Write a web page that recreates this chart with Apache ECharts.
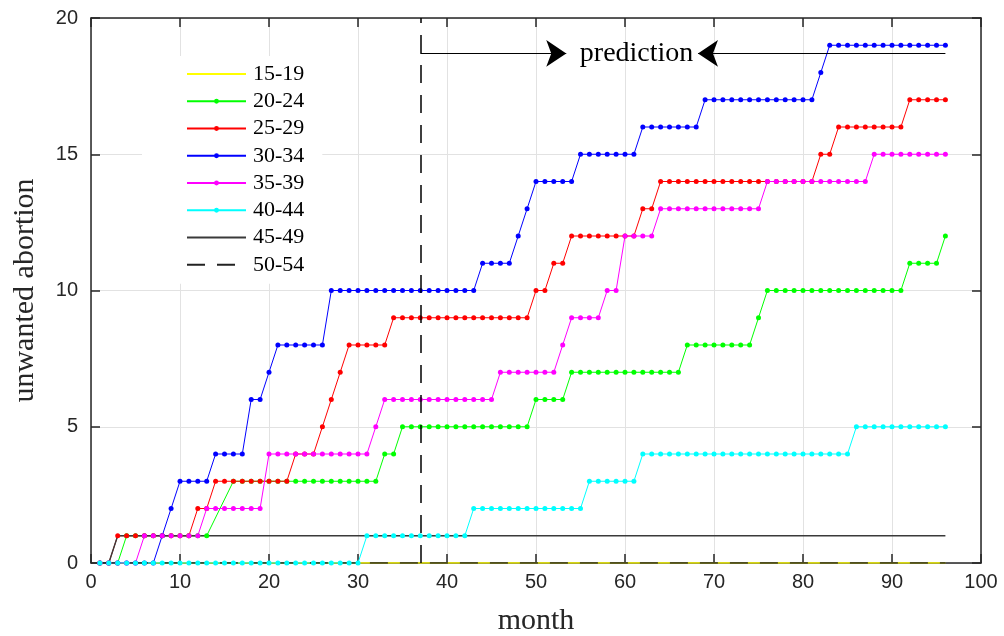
<!DOCTYPE html>
<html>
<head>
<meta charset="utf-8">
<script src="https://cdn.jsdelivr.net/npm/echarts/dist/echarts.min.js"></script>
<style>
  html, body { margin: 0; padding: 0; background: #fff; }
  #container { width: 1004px; height: 636px; }
</style>
</head>
<body>
<div id="container"></div>
<script>
// months 1..96
var months = [
  1, 2, 3, 4, 5, 6, 7, 8, 9, 10, 11, 12,
  13, 14, 15, 16, 17, 18, 19, 20, 21, 22, 23, 24,
  25, 26, 27, 28, 29, 30, 31, 32, 33, 34, 35, 36,
  37, 38, 39, 40, 41, 42, 43, 44, 45, 46, 47, 48,
  49, 50, 51, 52, 53, 54, 55, 56, 57, 58, 59, 60,
  61, 62, 63, 64, 65, 66, 67, 68, 69, 70, 71, 72,
  73, 74, 75, 76, 77, 78, 79, 80, 81, 82, 83, 84,
  85, 86, 87, 88, 89, 90, 91, 92, 93, 94, 95, 96
];

var age15_19 = [
  0,0,0,0,0,0,0,0,0,0,0,0, 0,0,0,0,0,0,0,0,0,0,0,0,
  0,0,0,0,0,0,0,0,0,0,0,0, 0,0,0,0,0,0,0,0,0,0,0,0,
  0,0,0,0,0,0,0,0,0,0,0,0, 0,0,0,0,0,0,0,0,0,0,0,0,
  0,0,0,0,0,0,0,0,0,0,0,0, 0,0,0,0,0,0,0,0,0,0,0,0
];
// two months have no marker in the picture (line goes straight 13 -> 16)
var age20_24 = [
  0,0,0,1,1,1,1,1,1,1,1,1,
  1,null,null,3,3,3,3,3,3,3,3,3,
  3,3,3,3,3,3,3,3,4,4,5,5,
  5,5,5,5,5,5,5,5,5,5,5,5,
  5,6,6,6,6,7,7,7,7,7,7,7,
  7,7,7,7,7,7,8,8,8,8,8,8,
  8,8,9,10,10,10,10,10,10,10,10,10,
  10,10,10,10,10,10,10,11,11,11,11,12
];
var age25_29 = [
  0,0,1,1,1,1,1,1,1,1,1,2,
  2,3,3,3,3,3,3,3,3,3,4,4,
  4,5,6,7,8,8,8,8,8,9,9,9,
  9,9,9,9,9,9,9,9,9,9,9,9,
  9,10,10,11,11,12,12,12,12,12,12,12,
  12,13,13,14,14,14,14,14,14,14,14,14,
  14,14,14,14,14,14,14,14,14,15,15,16,
  16,16,16,16,16,16,16,17,17,17,17,17
];
var age30_34 = [
  0,0,0,0,0,0,0,1,2,3,3,3,
  3,4,4,4,4,6,6,7,8,8,8,8,
  8,8,10,10,10,10,10,10,10,10,10,10,
  10,10,10,10,10,10,10,11,11,11,11,12,
  13,14,14,14,14,14,15,15,15,15,15,15,
  15,16,16,16,16,16,16,16,17,17,17,17,
  17,17,17,17,17,17,17,17,17,18,19,19,
  19,19,19,19,19,19,19,19,19,19,19,19
];
var age35_39 = [
  0,0,0,0,0,1,1,1,1,1,1,1,
  2,2,2,2,2,2,2,4,4,4,4,4,
  4,4,4,4,4,4,4,5,6,6,6,6,
  6,6,6,6,6,6,6,6,6,7,7,7,
  7,7,7,7,8,9,9,9,9,10,10,12,
  12,12,12,13,13,13,13,13,13,13,13,13,
  13,13,13,14,14,14,14,14,14,14,14,14,
  14,14,14,15,15,15,15,15,15,15,15,15
];
var age40_44 = [
  0,0,0,0,0,0,0,0,0,0,0,0,
  0,0,0,0,0,0,0,0,0,0,0,0,
  0,0,0,0,0,0,1,1,1,1,1,1,
  1,1,1,1,1,1,2,2,2,2,2,2,
  2,2,2,2,2,2,2,3,3,3,3,3,
  3,4,4,4,4,4,4,4,4,4,4,4,
  4,4,4,4,4,4,4,4,4,4,4,4,
  4,5,5,5,5,5,5,5,5,5,5,5
];
var age45_49 = [
  0,0,1,1,1,1,1,1,1,1,1,1, 1,1,1,1,1,1,1,1,1,1,1,1,
  1,1,1,1,1,1,1,1,1,1,1,1, 1,1,1,1,1,1,1,1,1,1,1,1,
  1,1,1,1,1,1,1,1,1,1,1,1, 1,1,1,1,1,1,1,1,1,1,1,1,
  1,1,1,1,1,1,1,1,1,1,1,1, 1,1,1,1,1,1,1,1,1,1,1,1
];
var age50_54 = [
  0,0,0,0,0,0,0,0,0,0,0,0, 0,0,0,0,0,0,0,0,0,0,0,0,
  0,0,0,0,0,0,0,0,0,0,0,0, 0,0,0,0,0,0,0,0,0,0,0,0,
  0,0,0,0,0,0,0,0,0,0,0,0, 0,0,0,0,0,0,0,0,0,0,0,0,
  0,0,0,0,0,0,0,0,0,0,0,0, 0,0,0,0,0,0,0,0,0,0,0,0
];

var groupNames = ['15-19', '20-24', '25-29', '30-34', '35-39', '40-44', '45-49', '50-54'];
var xTicks = [0, 10, 20, 30, 40, 50, 60, 70, 80, 90, 100];
var yTicks = [0, 5, 10, 15, 20];

// prediction marks
var predictStart = 37;
var arrowY = 18.7;
var arrowRightTip = 53.4;
var arrowLeftTip = 68.2;
var arrowLeftTail = 96;
var predictLabelX = 61.3;

var dom = document.getElementById("container");
var myChart = echarts.init(dom, null, { renderer: 'canvas' });

function pairs(vals) {
  var out = [];
  for (var i = 0; i < months.length; i++) {
    out.push([months[i], vals[i]]);
  }
  return out;
}

var axisColor = '#262626';
var serif = 'Liberation Serif';
var sans = 'Liberation Sans';

function dotSeries(name, vals, color) {
  return {
    name: name,
    type: 'line',
    data: pairs(vals),
    connectNulls: true,
    symbol: 'circle',
    symbolSize: 5,
    showSymbol: true,
    lineStyle: { color: color, width: 1 },
    itemStyle: { color: color, borderWidth: 0 },
    emphasis: { disabled: true },
    animation: false
  };
}

function plainSeries(name, vals, color, dash) {
  return {
    name: name,
    type: 'line',
    data: pairs(vals),
    symbol: 'none',
    lineStyle: { color: color, width: 1.4, type: dash || 'solid' },
    itemStyle: { color: 'rgba(0,0,0,0)' },
    emphasis: { disabled: true },
    animation: false
  };
}

var baseX = {
  type: 'value',
  min: xTicks[0],
  max: xTicks[xTicks.length - 1],
  interval: 10,
  axisLine: { show: true, onZero: false, lineStyle: { color: axisColor, width: 1.5 } },
  axisTick: { show: true, inside: true, length: 9, lineStyle: { color: axisColor, width: 1.5 } }
};
var baseY = {
  type: 'value',
  min: yTicks[0],
  max: yTicks[yTicks.length - 1],
  interval: 5,
  axisLine: { show: true, onZero: false, lineStyle: { color: axisColor, width: 1.5 } },
  axisTick: { show: true, inside: true, length: 9, lineStyle: { color: axisColor, width: 1.5 } }
};

var option = {
  backgroundColor: '#fff',
  animation: false,
  grid: { left: 91, right: 23, top: 18, bottom: 73, containLabel: false, outerBoundsMode: 'none' },
  legend: {
    data: groupNames,
    orient: 'vertical',
    left: 142,
    top: 56,
    padding: [7, 18, 8, 44],
    backgroundColor: '#fff',
    itemWidth: 59,
    itemHeight: 6,
    itemGap: 5.25,
    selectedMode: false,
    textStyle: { fontFamily: serif, fontSize: 22, color: '#000', lineHeight: 20, padding: [0, 0, 0, 2] }
  },
  xAxis: [
    Object.assign({}, baseX, {
      position: 'bottom',
      name: 'month',
      nameLocation: 'middle',
      nameGap: 43,
      nameTextStyle: { fontFamily: serif, fontSize: 30, color: axisColor },
      axisLabel: { fontFamily: sans, fontSize: 20, color: axisColor, margin: 9 },
      splitLine: { show: true, lineStyle: { color: '#e2e2e2', width: 1 } }
    }),
    Object.assign({}, baseX, {
      position: 'top',
      axisLabel: { show: false },
      splitLine: { show: false }
    })
  ],
  yAxis: [
    Object.assign({}, baseY, {
      position: 'left',
      name: 'unwanted abortion',
      nameLocation: 'middle',
      nameGap: 51,
      nameRotate: 90,
      nameTextStyle: { fontFamily: serif, fontSize: 30, color: axisColor },
      axisLabel: { fontFamily: sans, fontSize: 20, color: axisColor, margin: 13 },
      splitLine: { show: true, lineStyle: { color: '#e2e2e2', width: 1 } }
    }),
    Object.assign({}, baseY, {
      position: 'right',
      axisLabel: { show: false },
      splitLine: { show: false }
    })
  ],
  series: [
    plainSeries(groupNames[0], age15_19, '#ffff00'),
    dotSeries(groupNames[1], age20_24, '#00ff00'),
    dotSeries(groupNames[2], age25_29, '#ff0000'),
    dotSeries(groupNames[3], age30_34, '#0000ff'),
    dotSeries(groupNames[4], age35_39, '#ff00ff'),
    dotSeries(groupNames[5], age40_44, '#00ffff'),
    plainSeries(groupNames[6], age45_49, '#3a3a3a'),
    plainSeries(groupNames[7], age50_54, '#222222', [18, 12]),
    {
      // annotation: start of prediction + arrows + text
      type: 'line',
      data: [],
      silent: true,
      animation: false,
      markLine: {
        silent: true,
        animation: false,
        symbol: 'none',
        label: { show: false },
        emphasis: { disabled: true },
        data: [
          [
            { coord: [predictStart, 0], lineStyle: { color: '#000', width: 1.5, type: [18, 12] } },
            { coord: [predictStart, 20] }
          ],
          [
            { coord: [predictStart, arrowY], symbol: 'none', lineStyle: { color: '#000', width: 1, type: 'solid' } },
            { coord: [arrowRightTip, arrowY], symbol: 'arrow', symbolSize: 20 }
          ],
          [
            { coord: [arrowLeftTail, arrowY], symbol: 'none', lineStyle: { color: '#000', width: 1, type: 'solid' } },
            { coord: [arrowLeftTip, arrowY], symbol: 'arrow', symbolSize: 20 }
          ]
        ]
      },
      markPoint: {
        silent: true,
        animation: false,
        symbol: 'circle',
        symbolSize: 1,
        itemStyle: { color: 'rgba(0,0,0,0)' },
        label: {
          show: true,
          position: 'inside',
          formatter: 'prediction',
          fontFamily: serif,
          fontSize: 28,
          color: '#000'
        },
        data: [{ coord: [predictLabelX, arrowY] }]
      }
    }
  ]
};

if (option && typeof option === "object") {
  myChart.setOption(option, true);
}
</script>
</body>
</html>
